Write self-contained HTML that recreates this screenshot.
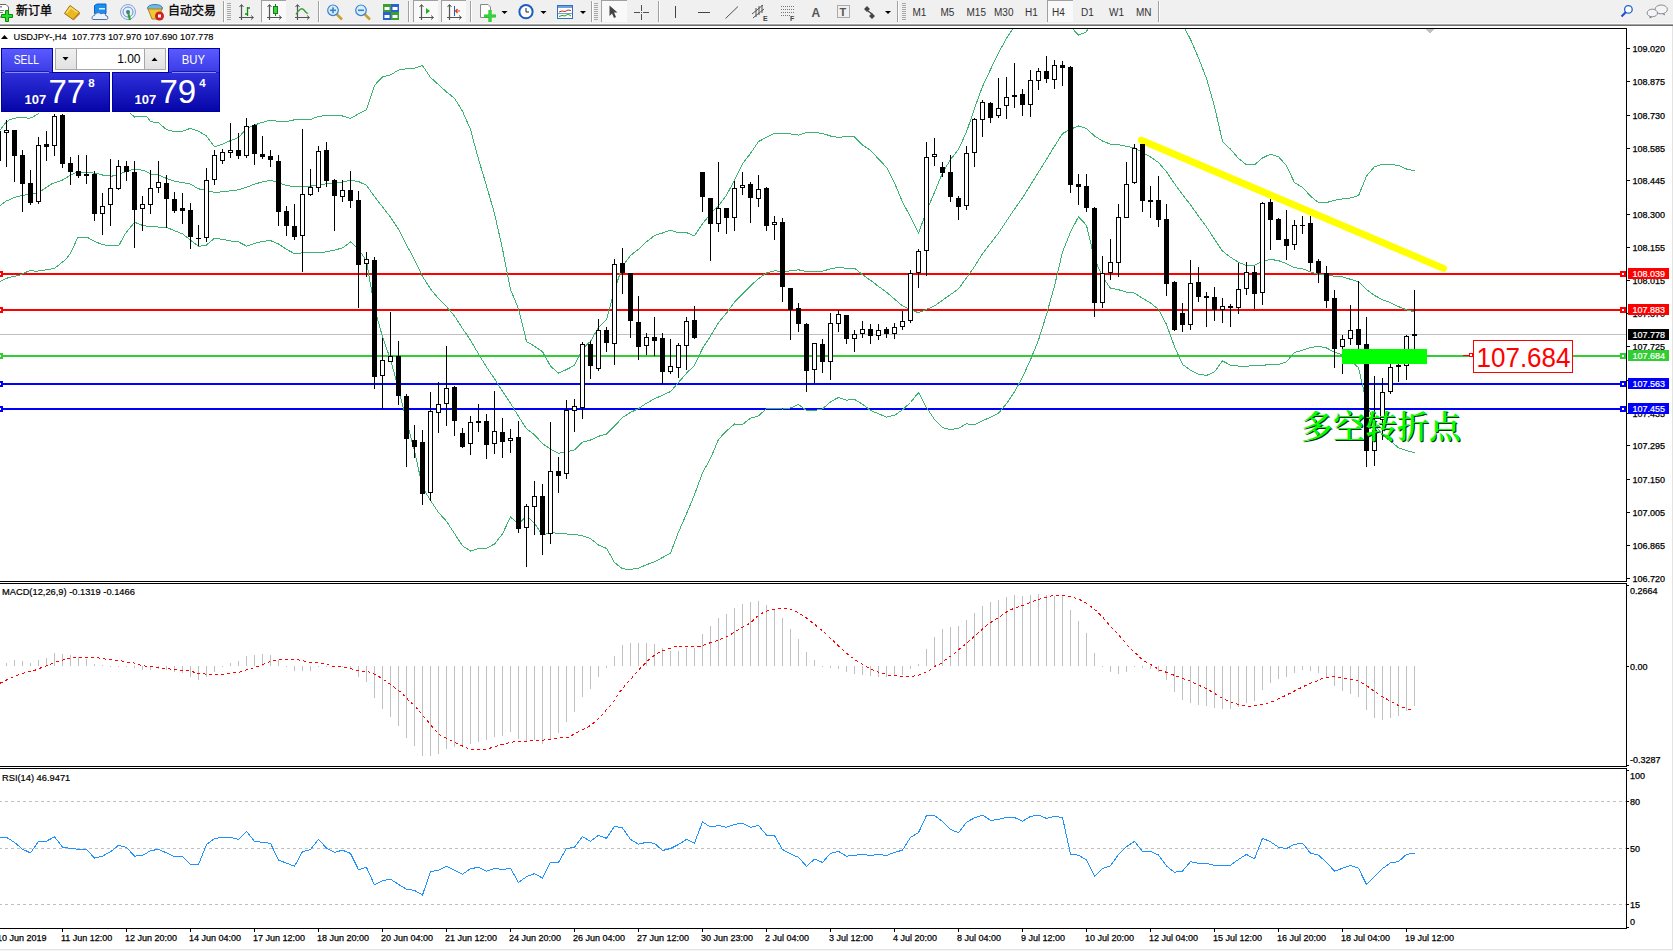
<!DOCTYPE html>
<html><head><meta charset="utf-8"><title>USDJPY-,H4</title>
<style>html,body{margin:0;padding:0;background:#fff;width:1673px;height:951px;overflow:hidden}
svg text{white-space:pre}</style></head>
<body><svg width="1673" height="951" viewBox="0 0 1673 951" style="position:absolute;left:0;top:0"><rect x="0" y="0" width="1673" height="23" fill="#f0f0f0"/><rect x="0" y="23" width="1673" height="1" fill="#fafafa"/><rect x="0" y="24" width="1673" height="1" fill="#a5a5a5"/><rect x="0" y="25" width="1673" height="1" fill="#6e6e6e"/><rect x="1672" y="26" width="1" height="925" fill="#e3e3e3"/><rect x="0" y="949" width="1672" height="1" fill="#e3e3e3"/><rect x="0" y="950" width="1673" height="1" fill="#f7f7f7"/><defs><clipPath id="cm"><rect x="0" y="29" width="1626" height="552"/></clipPath><clipPath id="cd"><rect x="0" y="584" width="1626" height="182"/></clipPath><clipPath id="cr"><rect x="0" y="769" width="1626" height="159"/></clipPath></defs><g clip-path="url(#cm)"><rect x="0" y="334" width="1626" height="1" fill="#c0c0c0"/><rect x="0" y="273" width="1626" height="2" fill="#ff0000"/><rect x="-3" y="271" width="6" height="6" fill="#ff0000"/><rect x="-1" y="273" width="2" height="2" fill="#fff"/><rect x="1620" y="271" width="6" height="6" fill="#ff0000"/><rect x="1622" y="273" width="2" height="2" fill="#fff"/><rect x="0" y="309" width="1626" height="2" fill="#ff0000"/><rect x="-3" y="307" width="6" height="6" fill="#ff0000"/><rect x="-1" y="309" width="2" height="2" fill="#fff"/><rect x="1620" y="307" width="6" height="6" fill="#ff0000"/><rect x="1622" y="309" width="2" height="2" fill="#fff"/><rect x="0" y="355" width="1626" height="2" fill="#32cd32"/><rect x="-3" y="353" width="6" height="6" fill="#32cd32"/><rect x="-1" y="355" width="2" height="2" fill="#fff"/><rect x="1620" y="353" width="6" height="6" fill="#32cd32"/><rect x="1622" y="355" width="2" height="2" fill="#fff"/><rect x="0" y="383" width="1626" height="2" fill="#0000ff"/><rect x="-3" y="381" width="6" height="6" fill="#0000ff"/><rect x="-1" y="383" width="2" height="2" fill="#fff"/><rect x="1620" y="381" width="6" height="6" fill="#0000ff"/><rect x="1622" y="383" width="2" height="2" fill="#fff"/><rect x="0" y="408" width="1626" height="2" fill="#0000ff"/><rect x="-3" y="406" width="6" height="6" fill="#0000ff"/><rect x="-1" y="408" width="2" height="2" fill="#fff"/><rect x="1620" y="406" width="6" height="6" fill="#0000ff"/><rect x="1622" y="408" width="2" height="2" fill="#fff"/><polyline points="0.0,130.1 5.5,123.0 9.5,119.8 14.0,118.3 22.0,117.1 28.4,118.3 31.5,117.8 37.9,114.0 45.0,104.0 60.0,100.0 90.0,98.0 120.0,104.0 131.5,114.4 134.6,117.1 138.6,116.3 146.5,116.3 150.5,121.6 158.5,122.8 166.5,129.6 174.5,131.5 182.5,131.2 190.5,128.3 198.5,131.3 206.5,136.0 214.5,146.7 222.5,144.3 230.5,140.5 238.5,137.6 246.5,128.4 254.5,125.0 262.5,122.3 270.5,120.2 278.5,121.4 286.5,121.5 294.5,119.8 302.5,119.7 310.5,119.6 318.5,116.3 326.5,115.7 334.5,115.9 342.5,116.0 350.5,118.4 358.5,113.9 366.5,109.9 374.5,85.3 382.5,77.0 390.5,74.9 398.5,70.1 406.5,68.8 414.5,68.1 422.5,65.6 430.5,77.5 438.5,84.6 446.5,92.0 454.5,98.2 462.5,111.2 470.5,129.5 478.5,159.2 486.5,185.8 494.5,213.6 502.5,248.9 510.5,289.5 518.5,308.8 526.5,341.5 534.5,346.2 542.5,351.7 550.5,366.1 558.5,373.1 566.5,369.6 574.5,365.2 582.5,348.6 590.5,341.4 598.5,327.6 606.5,319.7 614.5,289.9 622.5,266.2 630.5,255.5 638.5,249.2 646.5,241.8 654.5,235.6 662.5,233.0 670.5,230.2 678.5,232.8 686.5,232.6 694.5,235.9 702.5,223.9 710.5,213.6 718.5,205.9 726.5,195.1 734.5,180.3 742.5,163.9 750.5,153.4 758.5,141.6 766.5,137.2 774.5,133.4 782.5,133.9 790.5,134.0 798.5,135.1 806.5,132.6 814.5,132.5 822.5,133.4 830.5,136.0 838.5,137.4 846.5,136.5 854.5,136.8 862.5,145.1 870.5,150.2 878.5,159.0 886.5,167.3 894.5,183.0 902.5,202.1 910.5,216.9 918.5,233.1 926.5,211.1 934.5,192.3 942.5,172.8 950.5,159.6 958.5,149.3 966.5,131.9 974.5,108.5 982.5,86.5 990.5,69.5 998.5,52.9 1006.5,38.4 1014.5,26.3 1022.5,18.4 1030.5,10.4 1038.5,4.1 1046.5,4.2 1054.5,6.5 1062.5,15.2 1070.5,26.4 1078.5,35.2 1086.5,31.8 1094.5,13.1 1102.5,5.1 1110.5,0.3 1118.5,-0.2 1126.5,0.4 1134.5,2.4 1142.5,7.2 1150.5,10.8 1158.5,15.7 1166.5,19.2 1174.5,20.6 1182.5,24.8 1190.5,39.3 1198.5,58.0 1206.5,78.4 1214.5,106.6 1222.5,141.3 1230.5,149.2 1238.5,158.5 1246.5,164.7 1254.5,164.8 1262.5,157.9 1270.5,154.2 1278.5,156.7 1286.5,165.6 1294.5,182.8 1302.5,187.2 1310.5,196.1 1318.5,202.6 1326.5,202.6 1334.5,200.3 1342.5,199.0 1350.5,198.0 1358.5,195.7 1366.5,176.1 1374.5,166.7 1382.5,164.3 1390.5,164.2 1398.5,165.5 1406.5,169.0 1414.5,170.9" fill="none" stroke="#3cb371" stroke-width="1" shape-rendering="crispEdges"/><polyline points="0.0,205.8 6.3,201.0 14.2,197.6 22.0,195.5 31.5,194.0 37.9,193.2 42.6,190.0 52.0,183.7 61.5,180.6 69.4,175.8 75.7,172.7 83.6,172.4 91.5,172.7 100.0,174.2 103.9,175.5 111.8,176.2 117.3,174.7 124.4,172.3 132.3,169.6 137.0,169.6 143.3,170.3 150.5,173.9 158.5,174.9 166.5,178.4 174.5,181.2 182.5,182.5 190.5,184.2 198.5,188.8 206.5,190.5 214.5,192.4 222.5,191.8 230.5,190.8 238.5,189.8 246.5,187.2 254.5,184.2 262.5,181.8 270.5,180.4 278.5,182.7 286.5,185.4 294.5,186.8 302.5,186.2 310.5,186.2 318.5,184.7 326.5,183.8 334.5,183.0 342.5,181.9 350.5,180.2 358.5,181.5 366.5,185.4 374.5,196.6 382.5,206.9 390.5,217.2 398.5,229.2 406.5,244.9 414.5,259.6 422.5,276.4 430.5,288.9 438.5,298.6 446.5,306.6 454.5,315.9 462.5,328.5 470.5,340.2 478.5,353.9 486.5,367.1 494.5,378.8 502.5,391.4 510.5,403.2 518.5,416.4 526.5,428.8 534.5,434.8 542.5,443.5 550.5,449.2 558.5,453.2 566.5,451.8 574.5,449.8 582.5,442.2 590.5,440.0 598.5,436.3 606.5,434.1 614.5,426.2 622.5,417.5 630.5,412.4 638.5,408.6 646.5,403.2 654.5,398.8 662.5,395.2 670.5,391.6 678.5,382.4 686.5,373.2 694.5,365.3 702.5,348.4 710.5,336.1 718.5,322.6 726.5,313.1 734.5,302.1 742.5,294.2 750.5,285.8 758.5,278.8 766.5,272.9 774.5,270.8 782.5,271.5 790.5,270.9 798.5,269.8 806.5,271.5 814.5,271.6 822.5,271.1 830.5,268.9 838.5,267.4 846.5,268.3 854.5,268.1 862.5,274.7 870.5,280.3 878.5,286.4 886.5,292.2 894.5,299.1 902.5,305.9 910.5,309.7 918.5,312.8 926.5,309.4 934.5,305.9 942.5,300.2 950.5,294.6 958.5,288.8 966.5,277.9 974.5,266.6 982.5,253.7 990.5,243.4 998.5,233.1 1006.5,221.0 1014.5,209.1 1022.5,197.8 1030.5,185.1 1038.5,172.1 1046.5,159.3 1054.5,146.2 1062.5,133.6 1070.5,129.2 1078.5,126.0 1086.5,128.6 1094.5,136.0 1102.5,141.0 1110.5,144.2 1118.5,144.8 1126.5,146.3 1134.5,147.8 1142.5,152.7 1150.5,156.9 1158.5,162.5 1166.5,171.8 1174.5,183.6 1182.5,194.6 1190.5,204.8 1198.5,216.1 1206.5,226.9 1214.5,239.2 1222.5,251.1 1230.5,257.2 1238.5,262.3 1246.5,265.5 1254.5,265.1 1262.5,261.6 1270.5,259.4 1278.5,260.6 1286.5,263.7 1294.5,267.6 1302.5,268.8 1310.5,271.8 1318.5,274.4 1326.5,275.3 1334.5,276.2 1342.5,276.9 1350.5,279.3 1358.5,281.7 1366.5,289.4 1374.5,295.4 1382.5,299.7 1390.5,302.7 1398.5,306.6 1406.5,309.8 1414.5,311.8" fill="none" stroke="#3cb371" stroke-width="1" shape-rendering="crispEdges"/><polyline points="0.0,281.5 5.3,278.7 10.5,277.1 19.5,275.2 25.2,272.6 30.0,270.5 35.8,271.3 42.1,270.5 48.4,269.4 54.2,268.4 60.5,263.7 65.7,259.4 70.5,253.4 77.8,237.4 87.3,237.4 96.2,242.1 102.0,244.4 107.8,245.5 118.9,245.5 125.7,233.1 134.6,222.3 139.9,224.2 143.3,225.9 150.5,226.2 158.5,227.1 166.5,227.2 174.5,230.8 182.5,233.8 190.5,240.1 198.5,246.4 206.5,245.0 214.5,238.2 222.5,239.4 230.5,241.0 238.5,241.9 246.5,246.1 254.5,243.5 262.5,241.3 270.5,240.6 278.5,244.0 286.5,249.3 294.5,253.7 302.5,252.8 310.5,252.8 318.5,253.0 326.5,251.8 334.5,250.1 342.5,247.9 350.5,241.9 358.5,249.1 366.5,261.0 374.5,307.8 382.5,336.9 390.5,359.6 398.5,388.4 406.5,421.0 414.5,451.0 422.5,487.2 430.5,500.4 438.5,512.5 446.5,521.3 454.5,533.5 462.5,545.8 470.5,551.0 478.5,548.5 486.5,548.3 494.5,544.0 502.5,533.9 510.5,517.0 518.5,524.1 526.5,516.1 534.5,523.3 542.5,535.3 550.5,532.4 558.5,533.4 566.5,534.0 574.5,534.3 582.5,535.9 590.5,538.6 598.5,545.0 606.5,548.4 614.5,562.5 622.5,568.8 630.5,569.4 638.5,568.1 646.5,564.7 654.5,561.9 662.5,557.5 670.5,553.1 678.5,532.1 686.5,513.8 694.5,494.7 702.5,472.9 710.5,458.5 718.5,439.4 726.5,431.0 734.5,424.0 742.5,424.5 750.5,418.2 758.5,415.9 766.5,408.6 774.5,408.2 782.5,409.1 790.5,407.9 798.5,404.5 806.5,410.4 814.5,410.7 822.5,408.8 830.5,401.9 838.5,397.4 846.5,400.1 854.5,399.4 862.5,404.3 870.5,410.4 878.5,413.8 886.5,417.1 894.5,415.3 902.5,409.8 910.5,402.5 918.5,392.5 926.5,407.6 934.5,419.6 942.5,427.7 950.5,429.6 958.5,428.2 966.5,423.8 974.5,424.8 982.5,420.8 990.5,417.3 998.5,413.3 1006.5,403.6 1014.5,391.8 1022.5,377.3 1030.5,359.7 1038.5,340.1 1046.5,314.5 1054.5,286.0 1062.5,252.0 1070.5,232.0 1078.5,216.8 1086.5,225.3 1094.5,258.9 1102.5,276.9 1110.5,288.2 1118.5,289.7 1126.5,292.2 1134.5,293.1 1142.5,298.2 1150.5,303.0 1158.5,309.3 1166.5,324.5 1174.5,346.6 1182.5,364.4 1190.5,370.2 1198.5,374.1 1206.5,375.5 1214.5,371.8 1222.5,360.9 1230.5,365.2 1238.5,366.1 1246.5,366.3 1254.5,365.3 1262.5,365.2 1270.5,364.7 1278.5,364.5 1286.5,361.8 1294.5,352.3 1302.5,350.3 1310.5,347.5 1318.5,346.3 1326.5,348.0 1334.5,352.2 1342.5,354.9 1350.5,360.6 1358.5,367.7 1366.5,402.7 1374.5,424.1 1382.5,435.1 1390.5,441.2 1398.5,447.7 1406.5,450.6 1414.5,452.7" fill="none" stroke="#3cb371" stroke-width="1" shape-rendering="crispEdges"/><line x1="1141.3" y1="140.2" x2="1443.4" y2="268.4" stroke="#ffff00" stroke-width="7" stroke-linecap="round"/><g fill="#000" shape-rendering="crispEdges"><rect x="-2" y="125" width="1" height="40"/><rect x="-4" y="131" width="5" height="30"/><rect x="6" y="120" width="1" height="47"/><rect x="4" y="130" width="5" height="3"/><rect x="5" y="131" width="3" height="1" fill="#fff"/><rect x="14" y="130" width="1" height="52"/><rect x="12" y="130" width="5" height="26"/><rect x="22" y="150" width="1" height="62"/><rect x="20" y="155" width="5" height="29"/><rect x="30" y="170" width="1" height="35"/><rect x="28" y="183" width="5" height="20"/><rect x="38" y="137" width="1" height="67"/><rect x="36" y="145" width="5" height="57"/><rect x="37" y="146" width="3" height="55" fill="#fff"/><rect x="46" y="131" width="1" height="30"/><rect x="44" y="144" width="5" height="3"/><rect x="54" y="114" width="1" height="42"/><rect x="52" y="116" width="5" height="30"/><rect x="53" y="117" width="3" height="28" fill="#fff"/><rect x="62" y="114" width="1" height="54"/><rect x="60" y="115" width="5" height="49"/><rect x="70" y="157" width="1" height="28"/><rect x="68" y="163" width="5" height="9"/><rect x="78" y="155" width="1" height="23"/><rect x="76" y="171" width="5" height="5"/><rect x="86" y="155" width="1" height="29"/><rect x="84" y="174" width="5" height="2"/><rect x="94" y="171" width="1" height="50"/><rect x="92" y="174" width="5" height="40"/><rect x="102" y="193" width="1" height="42"/><rect x="100" y="206" width="5" height="8"/><rect x="101" y="207" width="3" height="6" fill="#fff"/><rect x="110" y="159" width="1" height="67"/><rect x="108" y="188" width="5" height="17"/><rect x="109" y="189" width="3" height="15" fill="#fff"/><rect x="118" y="160" width="1" height="30"/><rect x="116" y="166" width="5" height="23"/><rect x="117" y="167" width="3" height="21" fill="#fff"/><rect x="126" y="161" width="1" height="20"/><rect x="124" y="166" width="5" height="6"/><rect x="134" y="161" width="1" height="87"/><rect x="132" y="172" width="5" height="38"/><rect x="142" y="196" width="1" height="35"/><rect x="140" y="204" width="5" height="5"/><rect x="141" y="205" width="3" height="3" fill="#fff"/><rect x="150" y="170" width="1" height="44"/><rect x="148" y="188" width="5" height="17"/><rect x="149" y="189" width="3" height="15" fill="#fff"/><rect x="158" y="161" width="1" height="32"/><rect x="156" y="182" width="5" height="6"/><rect x="157" y="183" width="3" height="4" fill="#fff"/><rect x="166" y="175" width="1" height="53"/><rect x="164" y="183" width="5" height="16"/><rect x="174" y="192" width="1" height="21"/><rect x="172" y="199" width="5" height="12"/><rect x="182" y="193" width="1" height="31"/><rect x="180" y="208" width="5" height="3"/><rect x="190" y="203" width="1" height="46"/><rect x="188" y="210" width="5" height="27"/><rect x="198" y="225" width="1" height="21"/><rect x="196" y="238" width="5" height="1"/><rect x="206" y="168" width="1" height="74"/><rect x="204" y="180" width="5" height="58"/><rect x="205" y="181" width="3" height="56" fill="#fff"/><rect x="214" y="150" width="1" height="35"/><rect x="212" y="155" width="5" height="25"/><rect x="213" y="156" width="3" height="23" fill="#fff"/><rect x="222" y="149" width="1" height="15"/><rect x="220" y="152" width="5" height="9"/><rect x="221" y="153" width="3" height="7" fill="#fff"/><rect x="230" y="123" width="1" height="35"/><rect x="228" y="150" width="5" height="3"/><rect x="229" y="151" width="3" height="1" fill="#fff"/><rect x="238" y="133" width="1" height="26"/><rect x="236" y="150" width="5" height="6"/><rect x="246" y="118" width="1" height="40"/><rect x="244" y="126" width="5" height="30"/><rect x="245" y="127" width="3" height="28" fill="#fff"/><rect x="254" y="124" width="1" height="41"/><rect x="252" y="125" width="5" height="29"/><rect x="262" y="136" width="1" height="23"/><rect x="260" y="154" width="5" height="3"/><rect x="270" y="150" width="1" height="17"/><rect x="268" y="156" width="5" height="4"/><rect x="278" y="155" width="1" height="71"/><rect x="276" y="161" width="5" height="51"/><rect x="286" y="206" width="1" height="30"/><rect x="284" y="211" width="5" height="15"/><rect x="294" y="204" width="1" height="36"/><rect x="292" y="226" width="5" height="11"/><rect x="302" y="129" width="1" height="143"/><rect x="300" y="194" width="5" height="42"/><rect x="301" y="195" width="3" height="40" fill="#fff"/><rect x="310" y="169" width="1" height="27"/><rect x="308" y="187" width="5" height="8"/><rect x="309" y="188" width="3" height="6" fill="#fff"/><rect x="318" y="146" width="1" height="46"/><rect x="316" y="151" width="5" height="37"/><rect x="317" y="152" width="3" height="35" fill="#fff"/><rect x="326" y="142" width="1" height="45"/><rect x="324" y="150" width="5" height="31"/><rect x="334" y="179" width="1" height="52"/><rect x="332" y="180" width="5" height="16"/><rect x="342" y="180" width="1" height="22"/><rect x="340" y="190" width="5" height="7"/><rect x="341" y="191" width="3" height="5" fill="#fff"/><rect x="350" y="171" width="1" height="37"/><rect x="348" y="190" width="5" height="11"/><rect x="358" y="191" width="1" height="117"/><rect x="356" y="200" width="5" height="65"/><rect x="366" y="252" width="1" height="25"/><rect x="364" y="259" width="5" height="5"/><rect x="365" y="260" width="3" height="3" fill="#fff"/><rect x="374" y="257" width="1" height="132"/><rect x="372" y="260" width="5" height="117"/><rect x="382" y="338" width="1" height="71"/><rect x="380" y="360" width="5" height="16"/><rect x="381" y="361" width="3" height="14" fill="#fff"/><rect x="390" y="312" width="1" height="50"/><rect x="388" y="356" width="5" height="6"/><rect x="389" y="357" width="3" height="4" fill="#fff"/><rect x="398" y="341" width="1" height="64"/><rect x="396" y="356" width="5" height="40"/><rect x="406" y="394" width="1" height="73"/><rect x="404" y="396" width="5" height="43"/><rect x="414" y="425" width="1" height="33"/><rect x="412" y="440" width="5" height="7"/><rect x="422" y="430" width="1" height="75"/><rect x="420" y="442" width="5" height="52"/><rect x="430" y="392" width="1" height="109"/><rect x="428" y="411" width="5" height="82"/><rect x="429" y="412" width="3" height="80" fill="#fff"/><rect x="438" y="382" width="1" height="51"/><rect x="436" y="404" width="5" height="9"/><rect x="437" y="405" width="3" height="7" fill="#fff"/><rect x="446" y="346" width="1" height="80"/><rect x="444" y="388" width="5" height="16"/><rect x="445" y="389" width="3" height="14" fill="#fff"/><rect x="454" y="386" width="1" height="50"/><rect x="452" y="387" width="5" height="34"/><rect x="462" y="428" width="1" height="20"/><rect x="460" y="433" width="5" height="14"/><rect x="470" y="416" width="1" height="39"/><rect x="468" y="422" width="5" height="22"/><rect x="469" y="423" width="3" height="20" fill="#fff"/><rect x="478" y="404" width="1" height="28"/><rect x="476" y="421" width="5" height="2"/><rect x="486" y="414" width="1" height="45"/><rect x="484" y="421" width="5" height="24"/><rect x="494" y="391" width="1" height="63"/><rect x="492" y="431" width="5" height="13"/><rect x="493" y="432" width="3" height="11" fill="#fff"/><rect x="502" y="418" width="1" height="40"/><rect x="500" y="432" width="5" height="10"/><rect x="510" y="429" width="1" height="24"/><rect x="508" y="438" width="5" height="3"/><rect x="509" y="439" width="3" height="1" fill="#fff"/><rect x="518" y="421" width="1" height="112"/><rect x="516" y="437" width="5" height="92"/><rect x="526" y="504" width="1" height="63"/><rect x="524" y="506" width="5" height="22"/><rect x="525" y="507" width="3" height="20" fill="#fff"/><rect x="534" y="481" width="1" height="54"/><rect x="532" y="496" width="5" height="11"/><rect x="533" y="497" width="3" height="9" fill="#fff"/><rect x="542" y="484" width="1" height="71"/><rect x="540" y="496" width="5" height="39"/><rect x="550" y="422" width="1" height="122"/><rect x="548" y="471" width="5" height="63"/><rect x="549" y="472" width="3" height="61" fill="#fff"/><rect x="558" y="457" width="1" height="36"/><rect x="556" y="471" width="5" height="5"/><rect x="566" y="400" width="1" height="79"/><rect x="564" y="410" width="5" height="64"/><rect x="565" y="411" width="3" height="62" fill="#fff"/><rect x="574" y="399" width="1" height="33"/><rect x="572" y="406" width="5" height="5"/><rect x="573" y="407" width="3" height="3" fill="#fff"/><rect x="582" y="342" width="1" height="77"/><rect x="580" y="344" width="5" height="64"/><rect x="581" y="345" width="3" height="62" fill="#fff"/><rect x="590" y="341" width="1" height="38"/><rect x="588" y="344" width="5" height="22"/><rect x="598" y="319" width="1" height="52"/><rect x="596" y="330" width="5" height="39"/><rect x="597" y="331" width="3" height="37" fill="#fff"/><rect x="606" y="327" width="1" height="25"/><rect x="604" y="330" width="5" height="13"/><rect x="614" y="259" width="1" height="106"/><rect x="612" y="264" width="5" height="80"/><rect x="613" y="265" width="3" height="78" fill="#fff"/><rect x="622" y="248" width="1" height="46"/><rect x="620" y="263" width="5" height="10"/><rect x="630" y="273" width="1" height="65"/><rect x="628" y="273" width="5" height="48"/><rect x="638" y="296" width="1" height="64"/><rect x="636" y="322" width="5" height="25"/><rect x="646" y="333" width="1" height="22"/><rect x="644" y="337" width="5" height="9"/><rect x="645" y="338" width="3" height="7" fill="#fff"/><rect x="654" y="317" width="1" height="39"/><rect x="652" y="337" width="5" height="4"/><rect x="662" y="333" width="1" height="51"/><rect x="660" y="338" width="5" height="34"/><rect x="670" y="339" width="1" height="35"/><rect x="668" y="366" width="5" height="6"/><rect x="669" y="367" width="3" height="4" fill="#fff"/><rect x="678" y="343" width="1" height="35"/><rect x="676" y="345" width="5" height="23"/><rect x="677" y="346" width="3" height="21" fill="#fff"/><rect x="686" y="317" width="1" height="53"/><rect x="684" y="321" width="5" height="25"/><rect x="685" y="322" width="3" height="23" fill="#fff"/><rect x="694" y="306" width="1" height="33"/><rect x="692" y="320" width="5" height="18"/><rect x="702" y="172" width="1" height="40"/><rect x="700" y="172" width="5" height="25"/><rect x="710" y="198" width="1" height="63"/><rect x="708" y="198" width="5" height="26"/><rect x="718" y="162" width="1" height="70"/><rect x="716" y="208" width="5" height="16"/><rect x="717" y="209" width="3" height="14" fill="#fff"/><rect x="726" y="208" width="1" height="26"/><rect x="724" y="208" width="5" height="10"/><rect x="734" y="181" width="1" height="50"/><rect x="732" y="188" width="5" height="30"/><rect x="733" y="189" width="3" height="28" fill="#fff"/><rect x="742" y="172" width="1" height="23"/><rect x="740" y="185" width="5" height="3"/><rect x="741" y="186" width="3" height="1" fill="#fff"/><rect x="750" y="182" width="1" height="41"/><rect x="748" y="184" width="5" height="14"/><rect x="758" y="175" width="1" height="32"/><rect x="756" y="189" width="5" height="10"/><rect x="757" y="190" width="3" height="8" fill="#fff"/><rect x="766" y="187" width="1" height="44"/><rect x="764" y="188" width="5" height="38"/><rect x="774" y="216" width="1" height="24"/><rect x="772" y="222" width="5" height="3"/><rect x="773" y="223" width="3" height="1" fill="#fff"/><rect x="782" y="218" width="1" height="84"/><rect x="780" y="222" width="5" height="65"/><rect x="790" y="288" width="1" height="52"/><rect x="788" y="288" width="5" height="22"/><rect x="798" y="303" width="1" height="29"/><rect x="796" y="308" width="5" height="16"/><rect x="806" y="323" width="1" height="69"/><rect x="804" y="324" width="5" height="47"/><rect x="814" y="343" width="1" height="40"/><rect x="812" y="343" width="5" height="27"/><rect x="813" y="344" width="3" height="25" fill="#fff"/><rect x="822" y="339" width="1" height="34"/><rect x="820" y="344" width="5" height="18"/><rect x="830" y="313" width="1" height="67"/><rect x="828" y="323" width="5" height="39"/><rect x="829" y="324" width="3" height="37" fill="#fff"/><rect x="838" y="310" width="1" height="22"/><rect x="836" y="314" width="5" height="10"/><rect x="837" y="315" width="3" height="8" fill="#fff"/><rect x="846" y="315" width="1" height="29"/><rect x="844" y="315" width="5" height="24"/><rect x="854" y="330" width="1" height="22"/><rect x="852" y="334" width="5" height="5"/><rect x="853" y="335" width="3" height="3" fill="#fff"/><rect x="862" y="321" width="1" height="17"/><rect x="860" y="329" width="5" height="5"/><rect x="861" y="330" width="3" height="3" fill="#fff"/><rect x="870" y="324" width="1" height="20"/><rect x="868" y="329" width="5" height="7"/><rect x="878" y="324" width="1" height="16"/><rect x="876" y="330" width="5" height="6"/><rect x="877" y="331" width="3" height="4" fill="#fff"/><rect x="886" y="327" width="1" height="11"/><rect x="884" y="329" width="5" height="5"/><rect x="894" y="323" width="1" height="16"/><rect x="892" y="327" width="5" height="7"/><rect x="893" y="328" width="3" height="5" fill="#fff"/><rect x="902" y="311" width="1" height="19"/><rect x="900" y="321" width="5" height="6"/><rect x="901" y="322" width="3" height="4" fill="#fff"/><rect x="910" y="270" width="1" height="53"/><rect x="908" y="273" width="5" height="48"/><rect x="909" y="274" width="3" height="46" fill="#fff"/><rect x="918" y="249" width="1" height="39"/><rect x="916" y="251" width="5" height="22"/><rect x="917" y="252" width="3" height="20" fill="#fff"/><rect x="926" y="142" width="1" height="134"/><rect x="924" y="157" width="5" height="94"/><rect x="925" y="158" width="3" height="92" fill="#fff"/><rect x="934" y="138" width="1" height="28"/><rect x="932" y="154" width="5" height="3"/><rect x="933" y="155" width="3" height="1" fill="#fff"/><rect x="942" y="162" width="1" height="15"/><rect x="940" y="167" width="5" height="6"/><rect x="950" y="155" width="1" height="47"/><rect x="948" y="172" width="5" height="25"/><rect x="958" y="196" width="1" height="24"/><rect x="956" y="198" width="5" height="9"/><rect x="966" y="146" width="1" height="64"/><rect x="964" y="153" width="5" height="53"/><rect x="965" y="154" width="3" height="51" fill="#fff"/><rect x="974" y="118" width="1" height="49"/><rect x="972" y="119" width="5" height="34"/><rect x="973" y="120" width="3" height="32" fill="#fff"/><rect x="982" y="100" width="1" height="37"/><rect x="980" y="102" width="5" height="18"/><rect x="981" y="103" width="3" height="16" fill="#fff"/><rect x="990" y="102" width="1" height="21"/><rect x="988" y="103" width="5" height="15"/><rect x="998" y="78" width="1" height="40"/><rect x="996" y="108" width="5" height="8"/><rect x="997" y="109" width="3" height="6" fill="#fff"/><rect x="1006" y="77" width="1" height="42"/><rect x="1004" y="97" width="5" height="9"/><rect x="1005" y="98" width="3" height="7" fill="#fff"/><rect x="1014" y="63" width="1" height="45"/><rect x="1012" y="95" width="5" height="2"/><rect x="1022" y="89" width="1" height="27"/><rect x="1020" y="94" width="5" height="11"/><rect x="1030" y="70" width="1" height="47"/><rect x="1028" y="80" width="5" height="25"/><rect x="1029" y="81" width="3" height="23" fill="#fff"/><rect x="1038" y="68" width="1" height="22"/><rect x="1036" y="71" width="5" height="10"/><rect x="1037" y="72" width="3" height="8" fill="#fff"/><rect x="1046" y="56" width="1" height="27"/><rect x="1044" y="71" width="5" height="8"/><rect x="1054" y="60" width="1" height="29"/><rect x="1052" y="65" width="5" height="15"/><rect x="1053" y="66" width="3" height="13" fill="#fff"/><rect x="1062" y="61" width="1" height="25"/><rect x="1060" y="65" width="5" height="3"/><rect x="1070" y="66" width="1" height="127"/><rect x="1068" y="67" width="5" height="118"/><rect x="1078" y="174" width="1" height="31"/><rect x="1076" y="184" width="5" height="3"/><rect x="1086" y="174" width="1" height="38"/><rect x="1084" y="186" width="5" height="22"/><rect x="1094" y="207" width="1" height="110"/><rect x="1092" y="208" width="5" height="95"/><rect x="1102" y="256" width="1" height="52"/><rect x="1100" y="273" width="5" height="30"/><rect x="1101" y="274" width="3" height="28" fill="#fff"/><rect x="1110" y="239" width="1" height="41"/><rect x="1108" y="262" width="5" height="11"/><rect x="1109" y="263" width="3" height="9" fill="#fff"/><rect x="1118" y="204" width="1" height="73"/><rect x="1116" y="217" width="5" height="46"/><rect x="1117" y="218" width="3" height="44" fill="#fff"/><rect x="1126" y="162" width="1" height="56"/><rect x="1124" y="184" width="5" height="34"/><rect x="1125" y="185" width="3" height="32" fill="#fff"/><rect x="1134" y="144" width="1" height="40"/><rect x="1132" y="148" width="5" height="35"/><rect x="1133" y="149" width="3" height="33" fill="#fff"/><rect x="1142" y="144" width="1" height="68"/><rect x="1140" y="144" width="5" height="57"/><rect x="1150" y="186" width="1" height="32"/><rect x="1148" y="200" width="5" height="2"/><rect x="1158" y="176" width="1" height="51"/><rect x="1156" y="200" width="5" height="20"/><rect x="1166" y="204" width="1" height="92"/><rect x="1164" y="219" width="5" height="65"/><rect x="1174" y="281" width="1" height="50"/><rect x="1172" y="282" width="5" height="48"/><rect x="1182" y="303" width="1" height="29"/><rect x="1180" y="313" width="5" height="12"/><rect x="1190" y="260" width="1" height="70"/><rect x="1188" y="283" width="5" height="42"/><rect x="1189" y="284" width="3" height="40" fill="#fff"/><rect x="1198" y="267" width="1" height="35"/><rect x="1196" y="282" width="5" height="15"/><rect x="1206" y="292" width="1" height="35"/><rect x="1204" y="296" width="5" height="2"/><rect x="1214" y="287" width="1" height="34"/><rect x="1212" y="297" width="5" height="13"/><rect x="1222" y="298" width="1" height="25"/><rect x="1220" y="306" width="5" height="4"/><rect x="1221" y="307" width="3" height="2" fill="#fff"/><rect x="1230" y="304" width="1" height="23"/><rect x="1228" y="306" width="5" height="2"/><rect x="1238" y="263" width="1" height="51"/><rect x="1236" y="289" width="5" height="19"/><rect x="1237" y="290" width="3" height="17" fill="#fff"/><rect x="1246" y="262" width="1" height="33"/><rect x="1244" y="272" width="5" height="17"/><rect x="1245" y="273" width="3" height="15" fill="#fff"/><rect x="1254" y="266" width="1" height="43"/><rect x="1252" y="272" width="5" height="22"/><rect x="1262" y="202" width="1" height="103"/><rect x="1260" y="203" width="5" height="90"/><rect x="1261" y="204" width="3" height="88" fill="#fff"/><rect x="1270" y="199" width="1" height="51"/><rect x="1268" y="202" width="5" height="18"/><rect x="1278" y="218" width="1" height="22"/><rect x="1276" y="219" width="5" height="21"/><rect x="1286" y="210" width="1" height="50"/><rect x="1284" y="239" width="5" height="7"/><rect x="1294" y="220" width="1" height="30"/><rect x="1292" y="225" width="5" height="20"/><rect x="1293" y="226" width="3" height="18" fill="#fff"/><rect x="1302" y="216" width="1" height="18"/><rect x="1300" y="225" width="5" height="1"/><rect x="1310" y="216" width="1" height="55"/><rect x="1308" y="223" width="5" height="40"/><rect x="1318" y="259" width="1" height="24"/><rect x="1316" y="261" width="5" height="12"/><rect x="1326" y="266" width="1" height="42"/><rect x="1324" y="273" width="5" height="28"/><rect x="1334" y="290" width="1" height="78"/><rect x="1332" y="298" width="5" height="51"/><rect x="1342" y="335" width="1" height="39"/><rect x="1340" y="339" width="5" height="8"/><rect x="1341" y="340" width="3" height="6" fill="#fff"/><rect x="1350" y="305" width="1" height="40"/><rect x="1348" y="330" width="5" height="9"/><rect x="1349" y="331" width="3" height="7" fill="#fff"/><rect x="1358" y="281" width="1" height="69"/><rect x="1356" y="329" width="5" height="16"/><rect x="1366" y="317" width="1" height="150"/><rect x="1364" y="344" width="5" height="107"/><rect x="1374" y="376" width="1" height="90"/><rect x="1372" y="430" width="5" height="21"/><rect x="1373" y="431" width="3" height="19" fill="#fff"/><rect x="1382" y="378" width="1" height="62"/><rect x="1380" y="392" width="5" height="28"/><rect x="1381" y="393" width="3" height="26" fill="#fff"/><rect x="1390" y="364" width="1" height="30"/><rect x="1388" y="367" width="5" height="25"/><rect x="1389" y="368" width="3" height="23" fill="#fff"/><rect x="1398" y="364" width="1" height="18"/><rect x="1396" y="365" width="5" height="2"/><rect x="1406" y="335" width="1" height="45"/><rect x="1404" y="336" width="5" height="30"/><rect x="1405" y="337" width="3" height="28" fill="#fff"/><rect x="1414" y="290" width="1" height="64"/><rect x="1412" y="334" width="5" height="2"/></g><rect x="1342" y="349" width="85" height="15" fill="#00ff00"/><text x="1302" y="438.5" font-family="'Noto Serif CJK SC', 'Noto Sans CJK SC', serif" font-size="32" font-weight="600" fill="#0a2a0a">多空转折点</text><text x="1301" y="437.5" font-family="'Noto Serif CJK SC', 'Noto Sans CJK SC', serif" font-size="32" font-weight="600" fill="#00ff00">多空转折点</text><rect x="1473.5" y="340.5" width="99" height="32" fill="#fff" stroke="#ff0000" stroke-width="1"/><rect x="1463" y="355" width="8" height="1" fill="#ff0000"/><rect x="1469.5" y="353.5" width="3" height="3" fill="#fff" stroke="#ff0000" stroke-width="1"/><text x="1476.5" y="367" textLength="94" lengthAdjust="spacingAndGlyphs" font-family='"Liberation Sans", "Noto Sans CJK SC", sans-serif' font-size="27" fill="#ff0000">107.684</text></g><g fill="#000" shape-rendering="crispEdges"><rect x="0" y="28" width="1627" height="1"/><rect x="0" y="581" width="1627" height="1"/><rect x="1626" y="28" width="1" height="554"/><rect x="0" y="583" width="1627" height="1"/><rect x="0" y="766" width="1627" height="1"/><rect x="1626" y="583" width="1" height="184"/><rect x="0" y="768" width="1627" height="1"/><rect x="0" y="928" width="1627" height="1"/><rect x="1626" y="768" width="1" height="161"/></g><polygon points="1425,29 1434,29 1429.5,33.5" fill="#c0c0c0" shape-rendering="crispEdges"/><polygon points="1,39 8,39 4.5,35" fill="#000"/><text x="13.5" y="40" textLength="200" lengthAdjust="spacingAndGlyphs" font-family='"Liberation Sans", "Noto Sans CJK SC", sans-serif' font-size="9.7" fill="#000" stroke="#000" stroke-width="0.15">USDJPY-,H4  107.773 107.970 107.690 107.778</text><rect x="1627" y="48" width="3" height="1" fill="#000"/><text x="1632.5" y="52" font-family='"Liberation Sans", "Noto Sans CJK SC", sans-serif' font-size="9" fill="#000" stroke="#000" stroke-width="0.25">109.020</text><rect x="1627" y="81" width="3" height="1" fill="#000"/><text x="1632.5" y="85" font-family='"Liberation Sans", "Noto Sans CJK SC", sans-serif' font-size="9" fill="#000" stroke="#000" stroke-width="0.25">108.875</text><rect x="1627" y="115" width="3" height="1" fill="#000"/><text x="1632.5" y="119" font-family='"Liberation Sans", "Noto Sans CJK SC", sans-serif' font-size="9" fill="#000" stroke="#000" stroke-width="0.25">108.730</text><rect x="1627" y="148" width="3" height="1" fill="#000"/><text x="1632.5" y="152" font-family='"Liberation Sans", "Noto Sans CJK SC", sans-serif' font-size="9" fill="#000" stroke="#000" stroke-width="0.25">108.585</text><rect x="1627" y="180" width="3" height="1" fill="#000"/><text x="1632.5" y="184" font-family='"Liberation Sans", "Noto Sans CJK SC", sans-serif' font-size="9" fill="#000" stroke="#000" stroke-width="0.25">108.445</text><rect x="1627" y="214" width="3" height="1" fill="#000"/><text x="1632.5" y="218" font-family='"Liberation Sans", "Noto Sans CJK SC", sans-serif' font-size="9" fill="#000" stroke="#000" stroke-width="0.25">108.300</text><rect x="1627" y="247" width="3" height="1" fill="#000"/><text x="1632.5" y="251" font-family='"Liberation Sans", "Noto Sans CJK SC", sans-serif' font-size="9" fill="#000" stroke="#000" stroke-width="0.25">108.155</text><rect x="1627" y="280" width="3" height="1" fill="#000"/><text x="1632.5" y="284" font-family='"Liberation Sans", "Noto Sans CJK SC", sans-serif' font-size="9" fill="#000" stroke="#000" stroke-width="0.25">108.015</text><rect x="1627" y="313" width="3" height="1" fill="#000"/><text x="1632.5" y="317" font-family='"Liberation Sans", "Noto Sans CJK SC", sans-serif' font-size="9" fill="#000" stroke="#000" stroke-width="0.25">107.870</text><rect x="1627" y="346" width="3" height="1" fill="#000"/><text x="1632.5" y="350" font-family='"Liberation Sans", "Noto Sans CJK SC", sans-serif' font-size="9" fill="#000" stroke="#000" stroke-width="0.25">107.725</text><rect x="1627" y="380" width="3" height="1" fill="#000"/><text x="1632.5" y="384" font-family='"Liberation Sans", "Noto Sans CJK SC", sans-serif' font-size="9" fill="#000" stroke="#000" stroke-width="0.25">107.580</text><rect x="1627" y="413" width="3" height="1" fill="#000"/><text x="1632.5" y="417" font-family='"Liberation Sans", "Noto Sans CJK SC", sans-serif' font-size="9" fill="#000" stroke="#000" stroke-width="0.25">107.435</text><rect x="1627" y="445" width="3" height="1" fill="#000"/><text x="1632.5" y="449" font-family='"Liberation Sans", "Noto Sans CJK SC", sans-serif' font-size="9" fill="#000" stroke="#000" stroke-width="0.25">107.295</text><rect x="1627" y="479" width="3" height="1" fill="#000"/><text x="1632.5" y="483" font-family='"Liberation Sans", "Noto Sans CJK SC", sans-serif' font-size="9" fill="#000" stroke="#000" stroke-width="0.25">107.150</text><rect x="1627" y="512" width="3" height="1" fill="#000"/><text x="1632.5" y="516" font-family='"Liberation Sans", "Noto Sans CJK SC", sans-serif' font-size="9" fill="#000" stroke="#000" stroke-width="0.25">107.005</text><rect x="1627" y="545" width="3" height="1" fill="#000"/><text x="1632.5" y="549" font-family='"Liberation Sans", "Noto Sans CJK SC", sans-serif' font-size="9" fill="#000" stroke="#000" stroke-width="0.25">106.865</text><rect x="1627" y="578" width="3" height="1" fill="#000"/><text x="1632.5" y="582" font-family='"Liberation Sans", "Noto Sans CJK SC", sans-serif' font-size="9" fill="#000" stroke="#000" stroke-width="0.25">106.720</text><rect x="1628" y="268" width="41" height="11" fill="#ff0000"/><text x="1632.5" y="277" font-family='"Liberation Sans", "Noto Sans CJK SC", sans-serif' font-size="9" fill="#fff" stroke="#fff" stroke-width="0.2">108.039</text><rect x="1628" y="304" width="41" height="11" fill="#ff0000"/><text x="1632.5" y="313" font-family='"Liberation Sans", "Noto Sans CJK SC", sans-serif' font-size="9" fill="#fff" stroke="#fff" stroke-width="0.2">107.883</text><rect x="1628" y="329" width="41" height="11" fill="#000000"/><text x="1632.5" y="338" font-family='"Liberation Sans", "Noto Sans CJK SC", sans-serif' font-size="9" fill="#fff" stroke="#fff" stroke-width="0.2">107.778</text><rect x="1628" y="350" width="41" height="11" fill="#32cd32"/><text x="1632.5" y="359" font-family='"Liberation Sans", "Noto Sans CJK SC", sans-serif' font-size="9" fill="#fff" stroke="#fff" stroke-width="0.2">107.684</text><rect x="1628" y="378" width="41" height="11" fill="#0000ff"/><text x="1632.5" y="387" font-family='"Liberation Sans", "Noto Sans CJK SC", sans-serif' font-size="9" fill="#fff" stroke="#fff" stroke-width="0.2">107.563</text><rect x="1628" y="403" width="41" height="11" fill="#0000ff"/><text x="1632.5" y="412" font-family='"Liberation Sans", "Noto Sans CJK SC", sans-serif' font-size="9" fill="#fff" stroke="#fff" stroke-width="0.2">107.455</text><g clip-path="url(#cd)"><text x="2" y="595" font-family='"Liberation Sans", "Noto Sans CJK SC", sans-serif' font-size="9.3" fill="#000" stroke="#000" stroke-width="0.2">MACD(12,26,9) -0.1319 -0.1466</text><g fill="#c0c0c0" shape-rendering="crispEdges"><rect x="6" y="663" width="1" height="3"/><rect x="14" y="660" width="1" height="6"/><rect x="22" y="661" width="1" height="5"/><rect x="30" y="663" width="1" height="3"/><rect x="38" y="660" width="1" height="6"/><rect x="46" y="658" width="1" height="8"/><rect x="54" y="653" width="1" height="13"/><rect x="62" y="654" width="1" height="12"/><rect x="70" y="655" width="1" height="11"/><rect x="78" y="657" width="1" height="9"/><rect x="86" y="659" width="1" height="7"/><rect x="94" y="664" width="1" height="2"/><rect x="102" y="665" width="1" height="1"/><rect x="110" y="666" width="1" height="1"/><rect x="118" y="666" width="1" height="1"/><rect x="126" y="666" width="1" height="1"/><rect x="134" y="666" width="1" height="2"/><rect x="142" y="666" width="1" height="4"/><rect x="150" y="666" width="1" height="4"/><rect x="158" y="666" width="1" height="3"/><rect x="166" y="666" width="1" height="4"/><rect x="174" y="666" width="1" height="6"/><rect x="182" y="666" width="1" height="7"/><rect x="190" y="666" width="1" height="11"/><rect x="198" y="666" width="1" height="14"/><rect x="206" y="666" width="1" height="11"/><rect x="214" y="666" width="1" height="6"/><rect x="222" y="666" width="1" height="1"/><rect x="230" y="663" width="1" height="3"/><rect x="238" y="661" width="1" height="5"/><rect x="246" y="656" width="1" height="10"/><rect x="254" y="655" width="1" height="11"/><rect x="262" y="654" width="1" height="12"/><rect x="270" y="655" width="1" height="11"/><rect x="278" y="660" width="1" height="6"/><rect x="286" y="666" width="1" height="1"/><rect x="294" y="666" width="1" height="5"/><rect x="302" y="666" width="1" height="5"/><rect x="310" y="666" width="1" height="5"/><rect x="318" y="666" width="1" height="1"/><rect x="326" y="666" width="1" height="1"/><rect x="334" y="666" width="1" height="1"/><rect x="342" y="666" width="1" height="1"/><rect x="350" y="666" width="1" height="2"/><rect x="358" y="666" width="1" height="11"/><rect x="366" y="666" width="1" height="16"/><rect x="374" y="666" width="1" height="32"/><rect x="382" y="666" width="1" height="43"/><rect x="390" y="666" width="1" height="51"/><rect x="398" y="666" width="1" height="60"/><rect x="406" y="666" width="1" height="72"/><rect x="414" y="666" width="1" height="80"/><rect x="422" y="666" width="1" height="90"/><rect x="430" y="666" width="1" height="90"/><rect x="438" y="666" width="1" height="88"/><rect x="446" y="666" width="1" height="83"/><rect x="454" y="666" width="1" height="81"/><rect x="462" y="666" width="1" height="81"/><rect x="470" y="666" width="1" height="78"/><rect x="478" y="666" width="1" height="76"/><rect x="486" y="666" width="1" height="74"/><rect x="494" y="666" width="1" height="71"/><rect x="502" y="666" width="1" height="70"/><rect x="510" y="666" width="1" height="66"/><rect x="518" y="666" width="1" height="73"/><rect x="526" y="666" width="1" height="76"/><rect x="534" y="666" width="1" height="74"/><rect x="542" y="666" width="1" height="78"/><rect x="550" y="666" width="1" height="73"/><rect x="558" y="666" width="1" height="67"/><rect x="566" y="666" width="1" height="56"/><rect x="574" y="666" width="1" height="46"/><rect x="582" y="666" width="1" height="31"/><rect x="590" y="666" width="1" height="23"/><rect x="598" y="666" width="1" height="11"/><rect x="606" y="666" width="1" height="2"/><rect x="614" y="656" width="1" height="10"/><rect x="622" y="645" width="1" height="21"/><rect x="630" y="643" width="1" height="23"/><rect x="638" y="643" width="1" height="23"/><rect x="646" y="643" width="1" height="23"/><rect x="654" y="644" width="1" height="22"/><rect x="662" y="648" width="1" height="18"/><rect x="670" y="651" width="1" height="15"/><rect x="678" y="651" width="1" height="15"/><rect x="686" y="648" width="1" height="18"/><rect x="694" y="648" width="1" height="18"/><rect x="702" y="634" width="1" height="32"/><rect x="710" y="626" width="1" height="40"/><rect x="718" y="618" width="1" height="48"/><rect x="726" y="614" width="1" height="52"/><rect x="734" y="608" width="1" height="58"/><rect x="742" y="604" width="1" height="62"/><rect x="750" y="602" width="1" height="64"/><rect x="758" y="601" width="1" height="65"/><rect x="766" y="605" width="1" height="61"/><rect x="774" y="609" width="1" height="57"/><rect x="782" y="618" width="1" height="48"/><rect x="790" y="629" width="1" height="37"/><rect x="798" y="639" width="1" height="27"/><rect x="806" y="652" width="1" height="14"/><rect x="814" y="660" width="1" height="6"/><rect x="822" y="666" width="1" height="1"/><rect x="830" y="666" width="1" height="2"/><rect x="838" y="666" width="1" height="3"/><rect x="846" y="666" width="1" height="6"/><rect x="854" y="666" width="1" height="8"/><rect x="862" y="666" width="1" height="9"/><rect x="870" y="666" width="1" height="10"/><rect x="878" y="666" width="1" height="11"/><rect x="886" y="666" width="1" height="11"/><rect x="894" y="666" width="1" height="9"/><rect x="902" y="666" width="1" height="9"/><rect x="910" y="666" width="1" height="3"/><rect x="918" y="664" width="1" height="2"/><rect x="926" y="649" width="1" height="17"/><rect x="934" y="637" width="1" height="29"/><rect x="942" y="629" width="1" height="37"/><rect x="950" y="627" width="1" height="39"/><rect x="958" y="626" width="1" height="40"/><rect x="966" y="620" width="1" height="46"/><rect x="974" y="613" width="1" height="53"/><rect x="982" y="606" width="1" height="60"/><rect x="990" y="602" width="1" height="64"/><rect x="998" y="600" width="1" height="66"/><rect x="1006" y="597" width="1" height="69"/><rect x="1014" y="595" width="1" height="71"/><rect x="1022" y="596" width="1" height="70"/><rect x="1030" y="595" width="1" height="71"/><rect x="1038" y="594" width="1" height="72"/><rect x="1046" y="595" width="1" height="71"/><rect x="1054" y="596" width="1" height="70"/><rect x="1062" y="596" width="1" height="70"/><rect x="1070" y="610" width="1" height="56"/><rect x="1078" y="621" width="1" height="45"/><rect x="1086" y="633" width="1" height="33"/><rect x="1094" y="653" width="1" height="13"/><rect x="1102" y="666" width="1" height="1"/><rect x="1110" y="666" width="1" height="6"/><rect x="1118" y="666" width="1" height="8"/><rect x="1126" y="666" width="1" height="6"/><rect x="1134" y="666" width="1" height="1"/><rect x="1142" y="666" width="1" height="2"/><rect x="1150" y="666" width="1" height="3"/><rect x="1158" y="666" width="1" height="6"/><rect x="1166" y="666" width="1" height="14"/><rect x="1174" y="666" width="1" height="26"/><rect x="1182" y="666" width="1" height="34"/><rect x="1190" y="666" width="1" height="37"/><rect x="1198" y="666" width="1" height="39"/><rect x="1206" y="666" width="1" height="40"/><rect x="1214" y="666" width="1" height="42"/><rect x="1222" y="666" width="1" height="43"/><rect x="1230" y="666" width="1" height="43"/><rect x="1238" y="666" width="1" height="41"/><rect x="1246" y="666" width="1" height="37"/><rect x="1254" y="666" width="1" height="35"/><rect x="1262" y="666" width="1" height="24"/><rect x="1270" y="666" width="1" height="17"/><rect x="1278" y="666" width="1" height="13"/><rect x="1286" y="666" width="1" height="11"/><rect x="1294" y="666" width="1" height="7"/><rect x="1302" y="666" width="1" height="4"/><rect x="1310" y="666" width="1" height="5"/><rect x="1318" y="666" width="1" height="7"/><rect x="1326" y="666" width="1" height="11"/><rect x="1334" y="666" width="1" height="20"/><rect x="1342" y="666" width="1" height="25"/><rect x="1350" y="666" width="1" height="28"/><rect x="1358" y="666" width="1" height="31"/><rect x="1366" y="666" width="1" height="44"/><rect x="1374" y="666" width="1" height="52"/><rect x="1382" y="666" width="1" height="54"/><rect x="1390" y="666" width="1" height="52"/><rect x="1398" y="666" width="1" height="50"/><rect x="1406" y="666" width="1" height="45"/><rect x="1414" y="666" width="1" height="40"/></g><polyline points="0.0,683.3 5.0,680.8 11.0,677.7 17.0,675.2 23.0,673.3 29.5,671.2 35.0,670.2 41.4,667.7 46.4,665.8 54.0,662.9 60.2,660.5 65.3,659.5 70.3,658.2 77.8,657.4 90.0,657.5 103.0,658.2 106.7,659.5 113.0,660.1 119.2,660.1 125.5,662.3 131.8,662.3 138.0,664.5 143.0,665.8 149.4,666.4 155.6,667.4 162.0,668.3 168.2,668.7 173.2,669.5 179.5,670.2 185.8,670.4 190.8,671.2 197.7,673.3 201.9,673.4 206.3,674.3 222.7,674.3 227.8,673.4 232.8,673.1 239.1,672.2 245.4,670.3 251.7,668.4 258.0,666.5 263.1,664.6 269.4,661.7 275.7,660.2 280.8,659.3 295.9,659.3 301.0,660.4 306.0,661.5 311.0,662.9 318.6,662.9 323.7,664.0 330.0,665.2 335.0,666.8 342.6,666.8 348.3,668.0 354.0,669.7 359.0,671.0 366.6,671.0 371.6,673.0 376.7,675.3 383.0,679.1 389.3,683.5 395.6,688.2 401.9,693.0 408.2,699.9 414.5,705.5 420.9,713.1 427.2,720.7 433.5,728.2 439.9,734.8 446.2,738.3 452.5,740.9 458.8,744.4 465.1,747.2 469.4,749.1 475.7,749.4 487.1,749.4 492.1,747.4 498.4,745.7 504.7,743.6 511.1,742.4 517.4,741.1 528.7,741.1 532.5,740.2 542.6,740.2 547.6,739.6 554.0,738.6 560.3,737.9 566.6,737.9 571.6,735.6 576.7,732.7 583.0,729.5 589.3,726.3 595.6,721.3 601.9,715.0 606.9,709.3 612.6,703.0 618.9,692.9 625.2,685.3 631.5,678.3 637.9,670.8 644.2,664.5 650.5,658.1 656.8,653.7 663.1,650.6 670.7,648.0 677.0,646.2 699.7,646.2 704.7,644.9 711.1,642.4 717.4,640.5 723.7,638.0 731.2,634.2 737.6,630.4 743.9,626.6 750.2,623.1 756.5,617.1 762.8,612.7 769.1,609.9 776.7,608.7 789.3,608.7 793.1,610.4 798.2,612.5 804.4,616.5 808.8,619.7 815.0,624.7 821.5,630.1 827.8,635.7 833.4,641.1 839.1,646.5 845.4,652.5 851.7,657.3 858.1,661.7 863.7,665.3 869.4,668.5 875.7,671.4 882.0,673.3 888.3,675.0 894.7,675.0 899.7,676.4 911.0,676.4 917.4,675.6 923.7,673.3 928.7,670.8 935.0,666.3 941.3,663.2 947.6,658.1 953.3,654.4 959.0,649.3 965.3,644.3 971.0,639.5 976.7,634.2 983.0,628.5 989.3,623.4 995.6,619.3 1001.9,615.2 1006.9,611.8 1013.9,608.3 1020.2,606.5 1025.2,604.6 1031.5,602.0 1037.9,599.5 1043.5,598.3 1049.2,596.4 1055.5,595.3 1063.1,595.3 1068.1,596.1 1073.2,597.2 1079.5,599.5 1085.8,602.7 1092.1,607.5 1097.2,611.5 1103.5,618.1 1108.5,624.1 1113.6,629.8 1119.3,635.5 1124.9,642.4 1130.6,648.7 1136.3,653.8 1142.6,660.1 1148.9,663.5 1154.0,666.4 1160.3,670.6 1166.6,672.3 1172.3,674.6 1177.9,676.5 1184.2,679.0 1190.6,681.3 1196.5,684.2 1202.9,687.1 1208.6,689.9 1214.4,693.4 1220.8,697.4 1226.6,700.2 1232.3,702.4 1238.8,704.6 1244.5,705.7 1250.3,706.3 1256.0,705.7 1262.4,704.6 1268.9,702.7 1274.6,700.7 1280.4,698.1 1286.1,695.2 1292.6,691.9 1298.3,689.1 1304.0,686.2 1310.5,683.3 1316.2,681.3 1322.0,678.4 1327.7,677.6 1334.2,676.6 1340.6,677.6 1346.4,678.4 1352.1,679.4 1358.6,681.3 1365.0,684.2 1370.7,688.8 1376.5,692.8 1382.2,696.7 1388.7,700.2 1394.4,703.1 1400.2,706.7 1406.6,708.6 1413.8,710.3" fill="none" stroke="#ff0000" stroke-width="1" stroke-dasharray="3,3" shape-rendering="crispEdges"/></g><rect x="1627" y="585" width="2" height="1" fill="#000"/><rect x="1627" y="666" width="2" height="1" fill="#000"/><rect x="1627" y="765" width="2" height="1" fill="#000"/><text x="1630" y="594" font-family='"Liberation Sans", "Noto Sans CJK SC", sans-serif' font-size="9" fill="#000" stroke="#000" stroke-width="0.25">0.2664</text><text x="1630" y="670" font-family='"Liberation Sans", "Noto Sans CJK SC", sans-serif' font-size="9" fill="#000" stroke="#000" stroke-width="0.25">0.00</text><text x="1630" y="763" font-family='"Liberation Sans", "Noto Sans CJK SC", sans-serif' font-size="9" fill="#000" stroke="#000" stroke-width="0.25">-0.3287</text><g clip-path="url(#cr)"><text x="2" y="781" font-family='"Liberation Sans", "Noto Sans CJK SC", sans-serif' font-size="9.3" fill="#000" stroke="#000" stroke-width="0.2">RSI(14) 46.9471</text><line x1="0" y1="801.5" x2="1626" y2="801.5" stroke="#c0c0c0" stroke-width="1" stroke-dasharray="3,3" stroke-dashoffset="1"/><line x1="0" y1="848.5" x2="1626" y2="848.5" stroke="#c0c0c0" stroke-width="1" stroke-dasharray="3,3" stroke-dashoffset="1"/><line x1="0" y1="904.5" x2="1626" y2="904.5" stroke="#c0c0c0" stroke-width="1" stroke-dasharray="3,3" stroke-dashoffset="1"/><polyline points="-1.5,837.1 6.5,837.4 14.5,842.4 22.5,849.2 30.5,852.9 38.5,841.4 46.5,841.2 54.5,836.7 62.5,847.2 70.5,848.3 78.5,849.3 86.5,849.2 94.5,858.2 102.5,856.1 110.5,851.8 118.5,845.3 126.5,847.5 134.5,856.1 142.5,855.4 150.5,850.8 158.5,849.2 166.5,852.9 174.5,856.8 182.5,856.4 190.5,864.4 198.5,864.4 206.5,844.6 214.5,838.6 222.5,837.1 230.5,837.4 238.5,839.4 246.5,831.3 254.5,841.3 262.5,842.3 270.5,843.3 278.5,860.2 286.5,863.1 294.5,866.3 302.5,851.6 310.5,849.5 318.5,839.4 326.5,848.1 334.5,852.4 342.5,850.2 350.5,853.4 358.5,869.6 366.5,867.4 374.5,884.9 382.5,880.6 390.5,879.2 398.5,884.3 406.5,889.2 414.5,890.4 422.5,895.0 430.5,871.7 438.5,870.3 446.5,866.3 454.5,870.3 462.5,874.3 470.5,868.6 478.5,867.4 486.5,871.3 494.5,868.4 502.5,869.6 510.5,868.4 518.5,882.5 526.5,876.7 534.5,873.6 542.5,878.2 550.5,862.4 558.5,862.4 566.5,848.5 574.5,847.3 582.5,836.6 590.5,841.3 598.5,835.4 606.5,838.4 614.5,826.3 622.5,828.0 630.5,839.4 638.5,844.2 646.5,842.3 654.5,843.3 662.5,850.5 670.5,848.5 678.5,844.5 686.5,839.4 694.5,843.0 702.5,822.0 710.5,827.0 718.5,825.5 726.5,827.3 734.5,824.4 742.5,823.2 750.5,827.3 758.5,825.5 766.5,835.1 774.5,835.6 782.5,849.5 790.5,853.8 798.5,857.4 806.5,866.3 814.5,859.1 822.5,862.4 830.5,853.4 838.5,851.4 846.5,856.2 854.5,855.2 862.5,854.5 870.5,855.5 878.5,854.5 886.5,855.5 894.5,852.4 902.5,850.2 910.5,837.3 918.5,832.7 926.5,815.5 934.5,815.5 942.5,821.5 950.5,829.4 958.5,832.7 966.5,822.2 974.5,817.9 982.5,815.1 990.5,820.4 998.5,819.4 1006.5,817.5 1014.5,817.5 1022.5,821.2 1030.5,816.5 1038.5,815.1 1046.5,818.4 1054.5,816.5 1062.5,817.5 1070.5,854.2 1078.5,855.2 1086.5,860.0 1094.5,876.3 1102.5,868.6 1110.5,865.7 1118.5,854.5 1126.5,846.6 1134.5,841.3 1142.5,851.4 1150.5,851.4 1158.5,855.0 1166.5,866.0 1174.5,872.3 1182.5,871.1 1190.5,861.6 1198.5,863.3 1206.5,863.3 1214.5,865.3 1222.5,865.3 1230.5,865.3 1238.5,859.4 1246.5,854.4 1254.5,858.9 1262.5,838.2 1270.5,841.8 1278.5,847.2 1286.5,848.5 1294.5,844.4 1302.5,843.2 1310.5,853.2 1318.5,855.2 1326.5,862.3 1334.5,871.1 1342.5,868.3 1350.5,865.3 1358.5,868.3 1366.5,884.5 1374.5,876.7 1382.5,868.6 1390.5,862.8 1398.5,861.6 1406.5,854.4 1414.5,853.2" fill="none" stroke="#1e90ff" stroke-width="1" shape-rendering="crispEdges"/></g><rect x="1627" y="770" width="2" height="1" fill="#000"/><text x="1630" y="779" font-family='"Liberation Sans", "Noto Sans CJK SC", sans-serif' font-size="9" fill="#000" stroke="#000" stroke-width="0.25">100</text><rect x="1627" y="801" width="2" height="1" fill="#000"/><text x="1630" y="805" font-family='"Liberation Sans", "Noto Sans CJK SC", sans-serif' font-size="9" fill="#000" stroke="#000" stroke-width="0.25">80</text><rect x="1627" y="848" width="2" height="1" fill="#000"/><text x="1630" y="852" font-family='"Liberation Sans", "Noto Sans CJK SC", sans-serif' font-size="9" fill="#000" stroke="#000" stroke-width="0.25">50</text><rect x="1627" y="904" width="2" height="1" fill="#000"/><text x="1630" y="908" font-family='"Liberation Sans", "Noto Sans CJK SC", sans-serif' font-size="9" fill="#000" stroke="#000" stroke-width="0.25">15</text><rect x="1627" y="927" width="2" height="1" fill="#000"/><text x="1630" y="925" font-family='"Liberation Sans", "Noto Sans CJK SC", sans-serif' font-size="9" fill="#000" stroke="#000" stroke-width="0.25">0</text><text x="-3" y="941" font-family='"Liberation Sans", "Noto Sans CJK SC", sans-serif' font-size="9" fill="#000" stroke="#000" stroke-width="0.25">10 Jun 2019</text><rect x="62" y="929" width="1" height="3" fill="#000"/><text x="61" y="941" font-family='"Liberation Sans", "Noto Sans CJK SC", sans-serif' font-size="9" fill="#000" stroke="#000" stroke-width="0.25">11 Jun 12:00</text><rect x="126" y="929" width="1" height="3" fill="#000"/><text x="125" y="941" font-family='"Liberation Sans", "Noto Sans CJK SC", sans-serif' font-size="9" fill="#000" stroke="#000" stroke-width="0.25">12 Jun 20:00</text><rect x="190" y="929" width="1" height="3" fill="#000"/><text x="189" y="941" font-family='"Liberation Sans", "Noto Sans CJK SC", sans-serif' font-size="9" fill="#000" stroke="#000" stroke-width="0.25">14 Jun 04:00</text><rect x="254" y="929" width="1" height="3" fill="#000"/><text x="253" y="941" font-family='"Liberation Sans", "Noto Sans CJK SC", sans-serif' font-size="9" fill="#000" stroke="#000" stroke-width="0.25">17 Jun 12:00</text><rect x="318" y="929" width="1" height="3" fill="#000"/><text x="317" y="941" font-family='"Liberation Sans", "Noto Sans CJK SC", sans-serif' font-size="9" fill="#000" stroke="#000" stroke-width="0.25">18 Jun 20:00</text><rect x="382" y="929" width="1" height="3" fill="#000"/><text x="381" y="941" font-family='"Liberation Sans", "Noto Sans CJK SC", sans-serif' font-size="9" fill="#000" stroke="#000" stroke-width="0.25">20 Jun 04:00</text><rect x="446" y="929" width="1" height="3" fill="#000"/><text x="445" y="941" font-family='"Liberation Sans", "Noto Sans CJK SC", sans-serif' font-size="9" fill="#000" stroke="#000" stroke-width="0.25">21 Jun 12:00</text><rect x="510" y="929" width="1" height="3" fill="#000"/><text x="509" y="941" font-family='"Liberation Sans", "Noto Sans CJK SC", sans-serif' font-size="9" fill="#000" stroke="#000" stroke-width="0.25">24 Jun 20:00</text><rect x="574" y="929" width="1" height="3" fill="#000"/><text x="573" y="941" font-family='"Liberation Sans", "Noto Sans CJK SC", sans-serif' font-size="9" fill="#000" stroke="#000" stroke-width="0.25">26 Jun 04:00</text><rect x="638" y="929" width="1" height="3" fill="#000"/><text x="637" y="941" font-family='"Liberation Sans", "Noto Sans CJK SC", sans-serif' font-size="9" fill="#000" stroke="#000" stroke-width="0.25">27 Jun 12:00</text><rect x="702" y="929" width="1" height="3" fill="#000"/><text x="701" y="941" font-family='"Liberation Sans", "Noto Sans CJK SC", sans-serif' font-size="9" fill="#000" stroke="#000" stroke-width="0.25">30 Jun 23:00</text><rect x="766" y="929" width="1" height="3" fill="#000"/><text x="765" y="941" font-family='"Liberation Sans", "Noto Sans CJK SC", sans-serif' font-size="9" fill="#000" stroke="#000" stroke-width="0.25">2 Jul 04:00</text><rect x="830" y="929" width="1" height="3" fill="#000"/><text x="829" y="941" font-family='"Liberation Sans", "Noto Sans CJK SC", sans-serif' font-size="9" fill="#000" stroke="#000" stroke-width="0.25">3 Jul 12:00</text><rect x="894" y="929" width="1" height="3" fill="#000"/><text x="893" y="941" font-family='"Liberation Sans", "Noto Sans CJK SC", sans-serif' font-size="9" fill="#000" stroke="#000" stroke-width="0.25">4 Jul 20:00</text><rect x="958" y="929" width="1" height="3" fill="#000"/><text x="957" y="941" font-family='"Liberation Sans", "Noto Sans CJK SC", sans-serif' font-size="9" fill="#000" stroke="#000" stroke-width="0.25">8 Jul 04:00</text><rect x="1022" y="929" width="1" height="3" fill="#000"/><text x="1021" y="941" font-family='"Liberation Sans", "Noto Sans CJK SC", sans-serif' font-size="9" fill="#000" stroke="#000" stroke-width="0.25">9 Jul 12:00</text><rect x="1086" y="929" width="1" height="3" fill="#000"/><text x="1085" y="941" font-family='"Liberation Sans", "Noto Sans CJK SC", sans-serif' font-size="9" fill="#000" stroke="#000" stroke-width="0.25">10 Jul 20:00</text><rect x="1150" y="929" width="1" height="3" fill="#000"/><text x="1149" y="941" font-family='"Liberation Sans", "Noto Sans CJK SC", sans-serif' font-size="9" fill="#000" stroke="#000" stroke-width="0.25">12 Jul 04:00</text><rect x="1214" y="929" width="1" height="3" fill="#000"/><text x="1213" y="941" font-family='"Liberation Sans", "Noto Sans CJK SC", sans-serif' font-size="9" fill="#000" stroke="#000" stroke-width="0.25">15 Jul 12:00</text><rect x="1278" y="929" width="1" height="3" fill="#000"/><text x="1277" y="941" font-family='"Liberation Sans", "Noto Sans CJK SC", sans-serif' font-size="9" fill="#000" stroke="#000" stroke-width="0.25">16 Jul 20:00</text><rect x="1342" y="929" width="1" height="3" fill="#000"/><text x="1341" y="941" font-family='"Liberation Sans", "Noto Sans CJK SC", sans-serif' font-size="9" fill="#000" stroke="#000" stroke-width="0.25">18 Jul 04:00</text><rect x="1406" y="929" width="1" height="3" fill="#000"/><text x="1405" y="941" font-family='"Liberation Sans", "Noto Sans CJK SC", sans-serif' font-size="9" fill="#000" stroke="#000" stroke-width="0.25">19 Jul 12:00</text><defs>
<linearGradient id="gtab" x1="0" y1="0" x2="0" y2="1"><stop offset="0" stop-color="#5a5aff"/><stop offset="1" stop-color="#3c3ce6"/></linearGradient>
<linearGradient id="gbox" x1="0" y1="0" x2="0" y2="1"><stop offset="0" stop-color="#3030dc"/><stop offset="1" stop-color="#0505a8"/></linearGradient>
<linearGradient id="gbtn" x1="0" y1="0" x2="0" y2="1"><stop offset="0" stop-color="#f0f0f0"/><stop offset="1" stop-color="#e2e2e2"/></linearGradient>
</defs><rect x="0" y="47" width="222" height="66" fill="#fff"/><path d="M1,48 H53 V72 H110 V112 H1 Z" fill="#0000a0"/><rect x="2" y="49" width="50" height="23" fill="url(#gtab)"/><rect x="2" y="73" width="107" height="38" fill="url(#gbox)"/><rect x="2" y="72" width="50" height="1" fill="url(#gbox)"/><rect x="5" y="71" width="44" height="1" fill="#1a1ab0"/><rect x="5" y="72" width="44" height="1" fill="#8a8aff"/><path d="M168,48 H220 V112 H112 V72 H168 Z" fill="#0000a0"/><rect x="169" y="49" width="50" height="23" fill="url(#gtab)"/><rect x="113" y="73" width="106" height="38" fill="url(#gbox)"/><rect x="169" y="72" width="50" height="1" fill="url(#gbox)"/><rect x="172" y="71" width="44" height="1" fill="#1a1ab0"/><rect x="172" y="72" width="44" height="1" fill="#8a8aff"/><rect x="55.5" y="48.5" width="110" height="21" fill="#fff" stroke="#a8a8a8"/><rect x="56" y="49" width="20" height="20" fill="url(#gbtn)"/><rect x="76" y="49" width="1" height="20" fill="#a8a8a8"/><rect x="145" y="49" width="20" height="20" fill="url(#gbtn)"/><rect x="144" y="49" width="1" height="20" fill="#a8a8a8"/><polygon points="62.5,57 68.5,57 65.5,60.5" fill="#000"/><polygon points="151.5,61 157.5,61 154.5,57.5" fill="#000"/><text x="140.5" y="63" text-anchor="end" font-family='"Liberation Sans", "Noto Sans CJK SC", sans-serif' font-size="12" fill="#000">1.00</text><text x="13.7" y="64" textLength="25.2" lengthAdjust="spacingAndGlyphs" font-family='"Liberation Sans", "Noto Sans CJK SC", sans-serif' font-size="12" fill="#fff">SELL</text><text x="181.7" y="64" textLength="23.3" lengthAdjust="spacingAndGlyphs" font-family='"Liberation Sans", "Noto Sans CJK SC", sans-serif' font-size="12" fill="#fff">BUY</text><text x="24.5" y="103.5" font-family='"Liberation Sans", "Noto Sans CJK SC", sans-serif' font-size="13" font-weight="bold" fill="#fff">107</text><text x="48.5" y="102.8" font-family='"Liberation Sans", "Noto Sans CJK SC", sans-serif' font-size="33" fill="#fff">77</text><text x="88.3" y="86.8" font-family='"Liberation Sans", "Noto Sans CJK SC", sans-serif' font-size="11.5" font-weight="bold" fill="#fff">8</text><text x="134.5" y="103.5" font-family='"Liberation Sans", "Noto Sans CJK SC", sans-serif' font-size="13" font-weight="bold" fill="#fff">107</text><text x="159.5" y="102.8" font-family='"Liberation Sans", "Noto Sans CJK SC", sans-serif' font-size="33" fill="#fff">79</text><text x="199.3" y="86.8" font-family='"Liberation Sans", "Noto Sans CJK SC", sans-serif' font-size="11.5" font-weight="bold" fill="#fff">4</text><path d="M-1,4.5 H6 L8.5,7 V17 H-1 Z" fill="#fff" stroke="#666" stroke-width="1"/><rect x="-1" y="6" width="3" height="1.5" fill="#888"/><rect x="-1" y="10" width="5" height="1" fill="#888"/><rect x="-1" y="12" width="4" height="1" fill="#888"/><path d="M5.5,10.5 H8.5 V14.5 H12.5 V17.5 H8.5 V21.5 H5.5 V17.5 H1.5 V14.5 H5.5 Z" fill="#28e028" stroke="#0a8a0a" stroke-width="1"/><text x="16" y="14.5" font-family="'Liberation Sans', 'Noto Sans CJK SC', sans-serif" font-size="12" fill="#000" stroke="#000" stroke-width="0.3">新订单</text><path d="M64.5,13.5 L70,5.5 L79.5,12.5 L73,19.5 Z" fill="#e8b820" stroke="#a8701a" stroke-width="1"/><path d="M66.5,13 L70.5,7.5 L77.5,12.5" fill="none" stroke="#f8e070" stroke-width="1.5"/><path d="M73,19.5 L79.5,12.5 L80,14 L73.5,20.5" fill="#c08020"/><path d="M94.5,5.5 L97,4 H106 V13.5 H94.5 Z" fill="#1890f0" stroke="#1060c0" stroke-width="1"/><rect x="99" y="8" width="6" height="1.5" fill="#e0f0ff"/><path d="M93,19.5 C91.5,19.5 91.5,15.5 94.5,15.5 C95,12.5 99.5,12 101,14 C103,12.5 106,13.5 105.5,15.5 C108.5,15.5 108.5,19.5 106.5,19.5 Z" fill="#eef2fa" stroke="#5070a8" stroke-width="1"/><circle cx="128" cy="12" r="7.5" fill="none" stroke="#7aa6e0" stroke-width="1"/><circle cx="128" cy="12" r="5" fill="none" stroke="#5b8ed8" stroke-width="1"/><circle cx="128" cy="12" r="2" fill="#3a70d0"/><path d="M128,12 L130,20" stroke="#30a030" stroke-width="2"/><ellipse cx="155" cy="8" rx="7.5" ry="3.5" fill="#70b8e8" stroke="#4080b0"/><path d="M148,9 L162,9 L158,19 L152,19 Z" fill="#f0c830" stroke="#b08020"/><circle cx="159.5" cy="16" r="4.5" fill="#d02020"/><rect x="158" y="14.5" width="3" height="3" fill="#fff"/><text x="168" y="14.5" font-family="'Liberation Sans', 'Noto Sans CJK SC', sans-serif" font-size="12" fill="#000" stroke="#000" stroke-width="0.3">自动交易</text><rect x="223" y="1" width="1" height="21" fill="#a0a0a0"/><rect x="224" y="1" width="1" height="21" fill="#ffffff"/><rect x="227" y="3" width="4" height="1" fill="#a8a8a8"/><rect x="227" y="5" width="4" height="1" fill="#a8a8a8"/><rect x="227" y="7" width="4" height="1" fill="#a8a8a8"/><rect x="227" y="9" width="4" height="1" fill="#a8a8a8"/><rect x="227" y="11" width="4" height="1" fill="#a8a8a8"/><rect x="227" y="13" width="4" height="1" fill="#a8a8a8"/><rect x="227" y="15" width="4" height="1" fill="#a8a8a8"/><rect x="227" y="17" width="4" height="1" fill="#a8a8a8"/><rect x="227" y="19" width="4" height="1" fill="#a8a8a8"/><rect x="261" y="0" width="25" height="22" fill="#f9f9f9"/><rect x="261" y="0" width="25" height="1" fill="#a0a0a0"/><rect x="261" y="0" width="1" height="22" fill="#a0a0a0"/><path d="M241.5,5 V20 M239,17.5 H253" stroke="#555" stroke-width="1.2" fill="none"/><path d="M239.5,7 L241.5,4.5 L243.5,7 M251,15.5 L253.5,17.5 L251,19.5" stroke="#555" stroke-width="1" fill="none"/><path d="M247.5,7 V16 M247.5,8 H250 M245,14 H247.5" stroke="#109010" stroke-width="1.3" fill="none"/><path d="M269.5,5 V20 M267,17.5 H281" stroke="#555" stroke-width="1.2" fill="none"/><path d="M267.5,7 L269.5,4.5 L271.5,7 M279,15.5 L281.5,17.5 L279,19.5" stroke="#555" stroke-width="1" fill="none"/><rect x="273.5" y="6.5" width="4" height="7" fill="#40d040" stroke="#108010"/><path d="M275.5,4 V6.5 M275.5,13.5 V16" stroke="#108010"/><path d="M297.5,5 V20 M295,17.5 H309" stroke="#555" stroke-width="1.2" fill="none"/><path d="M295.5,7 L297.5,4.5 L299.5,7 M307,15.5 L309.5,17.5 L307,19.5" stroke="#555" stroke-width="1" fill="none"/><path d="M296,14.5 Q301,6 304,10 T308,13" stroke="#30a030" stroke-width="1.3" fill="none"/><rect x="318" y="1" width="1" height="21" fill="#a0a0a0"/><rect x="319" y="1" width="1" height="21" fill="#ffffff"/><line x1="336" y1="13.5" x2="342" y2="19.5" stroke="#c8a030" stroke-width="2.5"/><circle cx="333" cy="10.3" r="5.3" fill="#d6eefa" stroke="#3c80d0" stroke-width="1.2"/><rect x="330" y="9.5" width="6" height="1.6" fill="#3c80c0"/><rect x="332.2" y="7.3" width="1.6" height="6" fill="#3c80c0"/><line x1="364" y1="13.5" x2="370" y2="19.5" stroke="#c8a030" stroke-width="2.5"/><circle cx="361" cy="10.3" r="5.3" fill="#d6eefa" stroke="#3c80d0" stroke-width="1.2"/><rect x="358" y="9.5" width="6" height="1.6" fill="#3c80c0"/><rect x="383" y="4" width="8" height="8" fill="#3aa030"/><rect x="384.5" y="7" width="5" height="3" fill="#fff"/><rect x="391" y="4" width="8" height="8" fill="#2a60d0"/><rect x="392.5" y="7" width="5" height="3" fill="#fff"/><rect x="383" y="12" width="8" height="8" fill="#2a60d0"/><rect x="384.5" y="15" width="5" height="3" fill="#fff"/><rect x="391" y="12" width="8" height="8" fill="#3aa030"/><rect x="392.5" y="15" width="5" height="3" fill="#fff"/><rect x="408" y="1" width="1" height="21" fill="#a0a0a0"/><rect x="409" y="1" width="1" height="21" fill="#ffffff"/><rect x="413" y="0" width="25" height="22" fill="#f9f9f9"/><rect x="413" y="0" width="25" height="1" fill="#a0a0a0"/><rect x="413" y="0" width="1" height="22" fill="#a0a0a0"/><path d="M421.5,5 V20 M419,17.5 H433" stroke="#555" stroke-width="1.2" fill="none"/><path d="M419.5,7 L421.5,4.5 L423.5,7 M431,15.5 L433.5,17.5 L431,19.5" stroke="#555" stroke-width="1" fill="none"/><polygon points="426,8 426,14 430,11" fill="#20b020"/><rect x="441" y="0" width="25" height="22" fill="#f9f9f9"/><rect x="441" y="0" width="25" height="1" fill="#a0a0a0"/><rect x="441" y="0" width="1" height="22" fill="#a0a0a0"/><path d="M449.5,5 V20 M447,17.5 H461" stroke="#555" stroke-width="1.2" fill="none"/><path d="M447.5,7 L449.5,4.5 L451.5,7 M459,15.5 L461.5,17.5 L459,19.5" stroke="#555" stroke-width="1" fill="none"/><rect x="454" y="6" width="1" height="10" fill="#2060c0"/><path d="M460,11 H455.5 M457.5,9 L455.5,11 L457.5,13" stroke="#e04010" stroke-width="1.2" fill="none"/><rect x="470" y="1" width="1" height="21" fill="#a0a0a0"/><rect x="471" y="1" width="1" height="21" fill="#ffffff"/><path d="M480.5,4.5 H488 L490.5,7 V17.5 H480.5 Z" fill="#fff" stroke="#888"/><path d="M484,16 H496 M490,10 V22" stroke="#20c020" stroke-width="3.2" fill="none"/><path d="M484,16 H496 M490,10 V22" stroke="#40e040" stroke-width="1.2" fill="none"/><polygon points="501.5,11 507.5,11 504.5,14" fill="#000"/><circle cx="526" cy="11.7" r="7.6" fill="#1a5fc0"/><circle cx="526" cy="11.7" r="5.6" fill="#fff"/><path d="M526,8 V12 H529" stroke="#222" stroke-width="1" fill="none"/><polygon points="540.5,11 546.5,11 543.5,14" fill="#000"/><rect x="557.5" y="5.5" width="15" height="13" fill="#fff" stroke="#3070c0"/><rect x="558" y="6" width="14" height="2" fill="#6fa0e0"/><path d="M559,12 L562,11 L565,11.5 L568,10 L571,10.5" stroke="#c03020" fill="none"/><path d="M559,16.5 L562,15.5 L565,16 L568,14 L571,16" stroke="#20a020" fill="none"/><rect x="558" y="13" width="14" height="1" fill="#6fa0e0"/><polygon points="580,11 586,11 583,14" fill="#000"/><rect x="591" y="1" width="1" height="21" fill="#a0a0a0"/><rect x="592" y="1" width="1" height="21" fill="#ffffff"/><rect x="594" y="3" width="4" height="1" fill="#a8a8a8"/><rect x="594" y="5" width="4" height="1" fill="#a8a8a8"/><rect x="594" y="7" width="4" height="1" fill="#a8a8a8"/><rect x="594" y="9" width="4" height="1" fill="#a8a8a8"/><rect x="594" y="11" width="4" height="1" fill="#a8a8a8"/><rect x="594" y="13" width="4" height="1" fill="#a8a8a8"/><rect x="594" y="15" width="4" height="1" fill="#a8a8a8"/><rect x="594" y="17" width="4" height="1" fill="#a8a8a8"/><rect x="594" y="19" width="4" height="1" fill="#a8a8a8"/><rect x="601" y="0" width="26" height="22" fill="#f9f9f9"/><rect x="601" y="0" width="26" height="1" fill="#a0a0a0"/><rect x="601" y="0" width="1" height="22" fill="#a0a0a0"/><path d="M609.5,5.5 L609.5,16 L612,13.5 L614,18 L616,17 L614,12.5 L617.5,12.5 Z" fill="#444"/><g fill="#505050"><rect x="634" y="12" width="6" height="1"/><rect x="643" y="12" width="6" height="1"/><rect x="641" y="5" width="1" height="6"/><rect x="641" y="14" width="1" height="6"/><rect x="641" y="12" width="1" height="1"/></g><rect x="658" y="1" width="1" height="21" fill="#a0a0a0"/><rect x="659" y="1" width="1" height="21" fill="#ffffff"/><rect x="675" y="6" width="1" height="12" fill="#444"/><rect x="698" y="12" width="12" height="1" fill="#444"/><line x1="725.5" y1="18.5" x2="738" y2="6.5" stroke="#505050" stroke-width="1"/><path d="M752,14 L763,5 M753,18 L764,9 M756,8 V17 M759,6 V15 M762,5 V13" stroke="#555" stroke-width="1" fill="none"/><text x="763" y="20.5" font-family="'Liberation Sans', sans-serif" font-size="7" font-weight="bold" fill="#444">E</text><path d="M781,6.5 H794 M781,9.5 H794 M781,12.5 H794 M781,15.5 H790" stroke="#777" stroke-width="1" stroke-dasharray="1,1" fill="none"/><text x="790" y="20.5" font-family="'Liberation Sans', sans-serif" font-size="7" font-weight="bold" fill="#444">F</text><text x="811.5" y="17" font-family="'Liberation Sans', sans-serif" font-size="12" font-weight="bold" fill="#555">A</text><rect x="837.5" y="5.5" width="12" height="12" fill="none" stroke="#666" stroke-dasharray="1,1"/><text x="839.5" y="16" font-family="'Liberation Sans', sans-serif" font-size="11" font-weight="bold" fill="#555">T</text><path d="M867,6 L870,9 L867,12 L864,9 Z M872,13 L875,16 L872,19 L869,16 Z" fill="#444"/><path d="M868,11 L872,14" stroke="#444" stroke-width="1.5"/><polygon points="885,11 891,11 888,14" fill="#000"/><rect x="897" y="1" width="1" height="21" fill="#a0a0a0"/><rect x="898" y="1" width="1" height="21" fill="#ffffff"/><rect x="902" y="3" width="4" height="1" fill="#a8a8a8"/><rect x="902" y="5" width="4" height="1" fill="#a8a8a8"/><rect x="902" y="7" width="4" height="1" fill="#a8a8a8"/><rect x="902" y="9" width="4" height="1" fill="#a8a8a8"/><rect x="902" y="11" width="4" height="1" fill="#a8a8a8"/><rect x="902" y="13" width="4" height="1" fill="#a8a8a8"/><rect x="902" y="15" width="4" height="1" fill="#a8a8a8"/><rect x="902" y="17" width="4" height="1" fill="#a8a8a8"/><rect x="902" y="19" width="4" height="1" fill="#a8a8a8"/><rect x="1047" y="0" width="26" height="22" fill="#f9f9f9"/><rect x="1047" y="0" width="26" height="1" fill="#a0a0a0"/><rect x="1047" y="0" width="1" height="22" fill="#a0a0a0"/><text x="912.5" y="16" font-family="'Liberation Sans', sans-serif" font-size="10" fill="#333">M1</text><text x="940.5" y="16" font-family="'Liberation Sans', sans-serif" font-size="10" fill="#333">M5</text><text x="966.5" y="16" font-family="'Liberation Sans', sans-serif" font-size="10" fill="#333">M15</text><text x="994" y="16" font-family="'Liberation Sans', sans-serif" font-size="10" fill="#333">M30</text><text x="1025" y="16" font-family="'Liberation Sans', sans-serif" font-size="10" fill="#333">H1</text><text x="1052" y="16" font-family="'Liberation Sans', sans-serif" font-size="10" fill="#333">H4</text><text x="1081" y="16" font-family="'Liberation Sans', sans-serif" font-size="10" fill="#333">D1</text><text x="1109" y="16" font-family="'Liberation Sans', sans-serif" font-size="10" fill="#333">W1</text><text x="1136" y="16" font-family="'Liberation Sans', sans-serif" font-size="10" fill="#333">MN</text><rect x="1158" y="1" width="1" height="21" fill="#a0a0a0"/><rect x="1159" y="1" width="1" height="21" fill="#ffffff"/><circle cx="1628.4" cy="9.4" r="3.8" fill="#fff" stroke="#2060d0" stroke-width="1.3"/><line x1="1626" y1="12" x2="1621.5" y2="16.5" stroke="#2050c8" stroke-width="2.2"/><path d="M1664,13 L1665,15.5 L1662,13.5 Z" fill="#555"/><ellipse cx="1661.2" cy="9.4" rx="6.2" ry="4.4" fill="#f4f4f8" stroke="#8a8a8a"/><path d="M1650,16 L1649.5,18.5 L1652.5,16.5 Z" fill="#555"/><ellipse cx="1652.3" cy="13" rx="5.2" ry="3.8" fill="#f4f4f8" stroke="#8a8a8a"/></svg></body></html>
